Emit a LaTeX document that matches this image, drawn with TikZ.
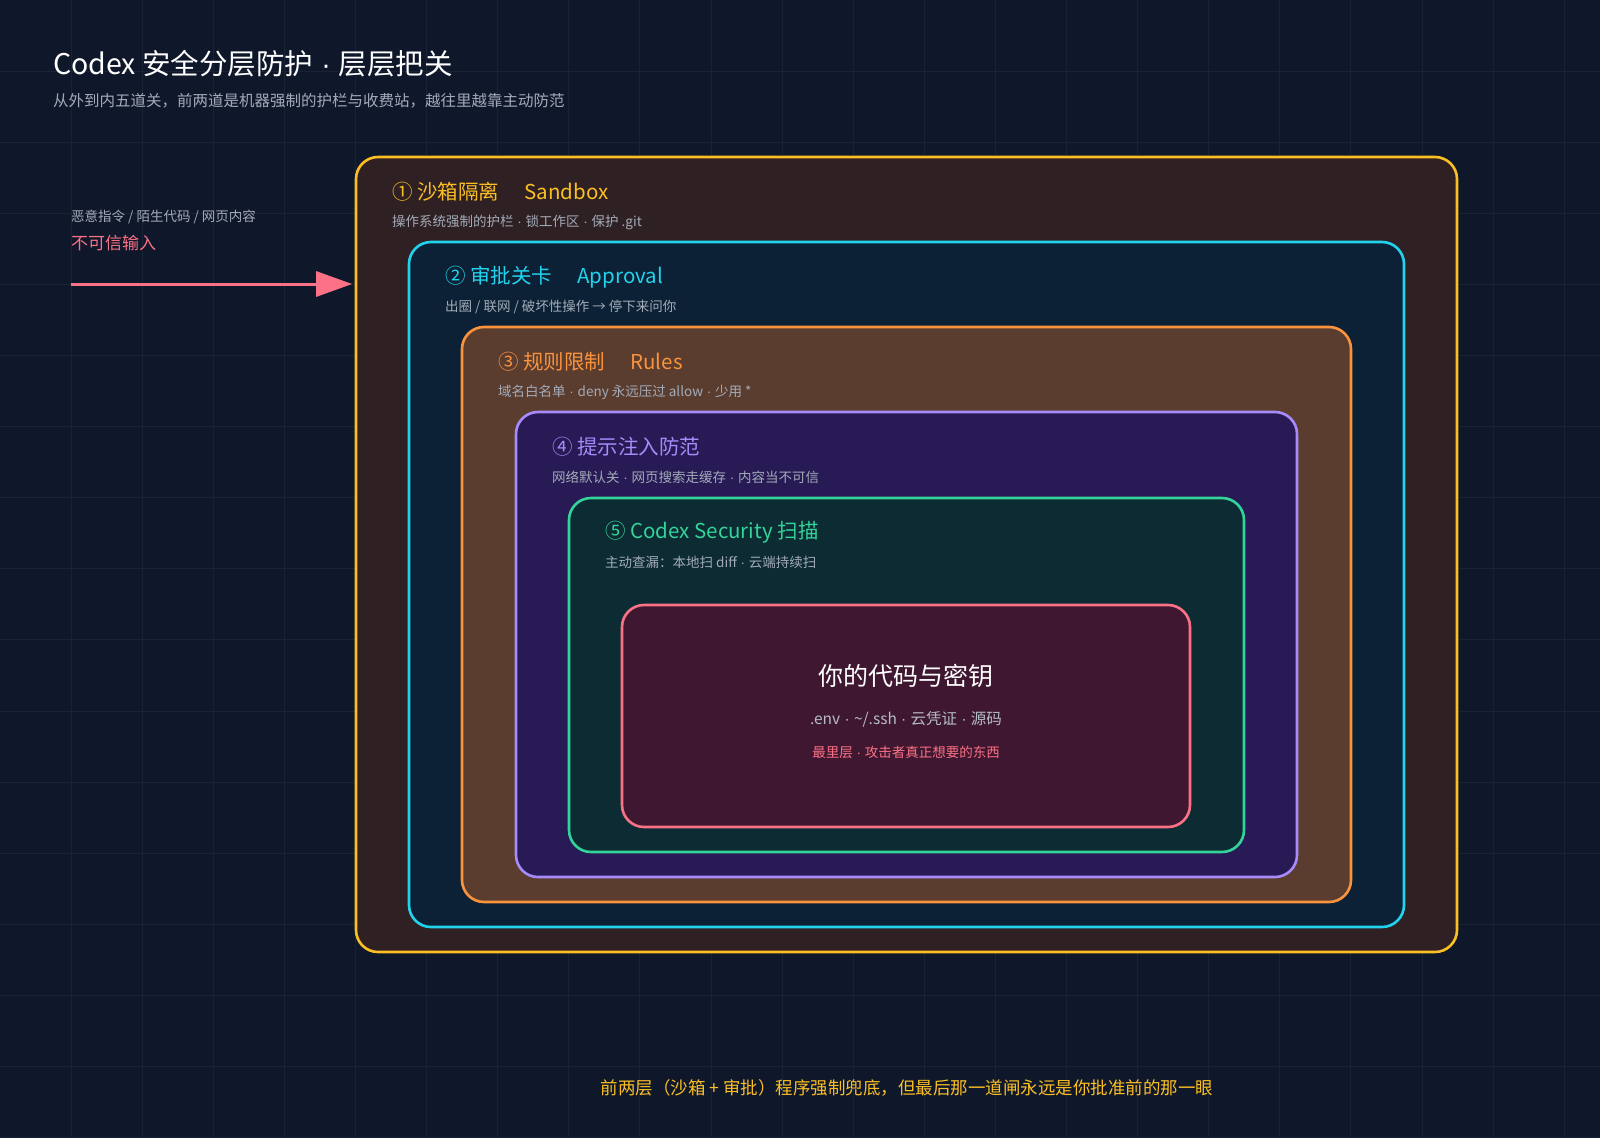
\documentclass[tikz,border=0pt]{standalone}
\usepackage{fontspec}
\setmainfont{Noto Sans CJK SC}
\newfontfamily\latf{Liberation Sans}
\newcommand{\dt}{{\latf\ ·\ }}
\begin{document}
\definecolor{bg}{HTML}{0F172A}
\definecolor{gridc}{HTML}{1A2336}
\definecolor{c1}{HTML}{FBBF24}\definecolor{f1}{HTML}{2F2123}
\definecolor{c2}{HTML}{22D3EE}\definecolor{f2}{HTML}{0C2135}
\definecolor{c3}{HTML}{FB923C}\definecolor{f3}{HTML}{5A3D2F}
\definecolor{c4}{HTML}{A78BFA}\definecolor{f4}{HTML}{271A55}
\definecolor{c5}{HTML}{34D399}\definecolor{f5}{HTML}{0C2B33}
\definecolor{c6}{HTML}{FB7185}\definecolor{f6}{HTML}{3F1730}
\definecolor{sub}{HTML}{A3ABB9}
\begin{tikzpicture}[x=1pt,y=-1pt,
  layer/.style={draw=#1,line width=2.6pt,rounded corners=22pt},
  ttl/.style={anchor=west,font=\fontsize{20.5}{24}\selectfont,text=#1,inner sep=0},
  stl/.style={anchor=west,font=\fontsize{13.5}{16}\selectfont,text=sub,inner sep=0}]
\fill[bg] (0,0) rectangle (1600,1138);
\useasboundingbox (0,0) rectangle (1600,1138);
\foreach \i in {1,...,22} \draw[gridc,line width=1pt] (\i*71.1,0) -- (\i*71.1,1138);
\foreach \i in {1,...,16} \draw[gridc,line width=1pt] (0,\i*71.1) -- (1600,\i*71.1);
\node[anchor=west,inner sep=0,text=white,font=\fontsize{28.5}{32}\selectfont] (title) at (53,64) {Codex 安全分层防护\dt 层层把关};
\node[anchor=west,inner sep=0,text=sub,font=\fontsize{15.5}{18}\selectfont] (subt) at (53,101) {从外到内五道关，前两道是机器强制的护栏与收费站，越往里越靠主动防范};
\node[stl] (in1) at (71,217) {恶意指令 / 陌生代码 / 网页内容};
\node[anchor=west,inner sep=0,text=c6,font=\fontsize{17}{20}\selectfont] (in2) at (71,243) {不可信输入};
\filldraw[layer=c1,fill=f1] (356,157) rectangle (1457,952);
\filldraw[layer=c2,fill=f2] (409,242) rectangle (1404,927);
\filldraw[layer=c3,fill=f3] (462,327) rectangle (1351,902);
\filldraw[layer=c4,fill=f4] (516,412) rectangle (1297,877);
\filldraw[layer=c5,fill=f5] (569,498) rectangle (1244,852);
\filldraw[layer=c6,fill=f6] (622,605) rectangle (1190,827);
\coordinate (src) at (71,284);
\coordinate (dst) at (352,284);
\draw[c6,line width=3pt] (src) -- (318,284);
\fill[c6] (dst) -- (316,271) -- (316,297) -- cycle;
\node[ttl=c1] (t1) at (392,192) {① 沙箱隔离\quad\ Sandbox};
\node[stl] (s1) at (392,222) {操作系统强制的护栏\dt 锁工作区\dt 保护 .git};
\node[ttl=c2] (t2) at (445,277) {② 审批关卡\quad\ Approval};
\node[stl] (s2) at (445,307) {出圈 / 联网 / 破坏性操作 → 停下来问你};
\node[ttl=c3] (t3) at (498,362) {③ 规则限制\quad\ Rules};
\node[stl] (s3) at (498,392) {域名白名单\dt deny 永远压过 allow\dt 少用 *};
\node[ttl=c4] (t4) at (552,447) {④ 提示注入防范};
\node[stl] (s4) at (552,477) {网络默认关\dt 网页搜索走缓存\dt 内容当不可信};
\node[ttl=c5] (t5) at (605,532) {⑤ Codex Security 扫描};
\node[stl] (s5) at (605,562) {主动查漏：本地扫 diff\dt 云端持续扫};
\node[text=white,font=\fontsize{25}{28}\selectfont,inner sep=0] (core) at (906,676) {你的代码与密钥};
\node[text=sub!80!white,font=\fontsize{15.5}{18}\selectfont,inner sep=0] (core2) at (906,719) {.env\dt \textasciitilde/.ssh\dt 云凭证\dt 源码};
\node[text=c6,font=\fontsize{13.5}{16}\selectfont,inner sep=0] (core3) at (906,752) {最里层\dt 攻击者真正想要的东西};
\node[text=c1,font=\fontsize{17.5}{20}\selectfont,inner sep=0] (foot) at (907,1088) {前两层（沙箱 + 审批）程序强制兜底，但最后那一道闸永远是你批准前的那一眼};
\end{tikzpicture}
\end{document}
